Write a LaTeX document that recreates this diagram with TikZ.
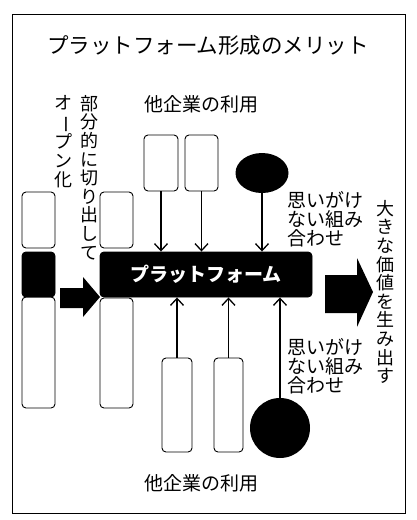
\documentclass[tikz,border=0pt]{standalone}
\usepackage{fontspec}
\usepackage{graphicx}
\setmainfont{Noto Sans CJK JP}
\usetikzlibrary{arrows.meta,shapes.geometric}
\tikzset{
  wbox/.style={draw,line width=0.9pt,rounded corners=4pt,minimum width=33pt,inner sep=0pt},
  bbox/.style={wbox,fill=black},
  blob/.style={fill=black,inner sep=0pt},
  arr/.style={line width=1.3pt,-{Straight Barb[length=7pt,width=13pt]}},
  tate/.style={align=center,inner sep=0pt,font=\fontsize{18}{18.6}\selectfont},
  yoko/.style={align=left,inner sep=0pt,font=\fontsize{19}{19}\selectfont},
}
\newcommand{\tatebar}{\rotatebox[origin=c]{-90}{ー}}
\begin{document}
\begin{tikzpicture}[x=1pt,y=-1pt]
	\useasboundingbox (0,0) rectangle (416,520);
	%% frame
	\draw[line width=1pt] (12,14) rectangle (405,513);
	%% title
	\node[font=\fontsize{21.5}{21.5}\selectfont] (title) at (208,45) {プラットフォーム形成のメリット};
	%% left columns
	\node[wbox,minimum height=56pt] (l1) at (38.5,220) {};
	\node[bbox,minimum height=45pt] (l2) at (38.5,274.5) {};
	\node[wbox,minimum height=111pt] (l3) at (38.5,352.5) {};
	\node[wbox,minimum height=56pt] (r1) at (116.5,220) {};
	\node[wbox,minimum height=110pt] (r3) at (116.5,353) {};
	%% platform
	\node[bbox,minimum width=212pt,minimum height=45pt,text=white,
	  font=\fontsize{19}{19}\selectfont\bfseries] (plat) at (206,274.5) {プラットフォーム};
	%% vertical labels
	\node[tate,anchor=north] (open) at (63,95) {オ\\\tatebar\\プ\\ン\\化};
	\node[tate,anchor=north] (cut) at (89,95) {部\\分\\的\\に\\切\\り\\出\\し\\て};
	\node[tate,anchor=north] (value) at (385,200) {大\\き\\な\\価\\値\\を\\生\\み\\出\\す};
	%% other companies, top
	\node[yoko] (use1) at (201,104) {他企業の利用};
	\node[wbox,minimum width=34pt,minimum height=56pt] (t1) at (161,163) {};
	\node[wbox,minimum width=33pt,minimum height=56pt] (t2) at (201.5,163) {};
	\node[blob,ellipse,minimum width=53pt,minimum height=40pt] (e1) at (262,173) {};
	\node[yoko,anchor=west] (kumi1) at (287,219) {思いがけ\\ない組み\\合わせ};
	%% other companies, bottom
	\node[wbox,minimum width=30pt,minimum height=94pt] (b1) at (177,405) {};
	\node[wbox,minimum width=29pt,minimum height=94pt] (b2) at (228.5,405) {};
	\node[blob,circle,minimum size=60pt] (e2) at (280,428) {};
	\node[yoko,anchor=west] (kumi2) at (287,366) {思いがけ\\ない組み\\合わせ};
	\node[yoko] (use2) at (201,483) {他企業の利用};
	%% arrows into platform
	\draw[arr] (t1.south) -- (t1.south |- plat.north);
	\draw[arr] (t2.south) -- (t2.south |- plat.north);
	\draw[arr] (e1.south) -- (e1.south |- plat.north);
	\draw[arr] (b1.north) -- (b1.north |- plat.south);
	\draw[arr] (b2.north) -- (b2.north |- plat.south);
	\draw[arr] (e2.north) -- (e2.north |- plat.south);
	%% block arrows
	\fill (60,288) -- (83,288) -- (83,277) -- (100,297) -- (83,317) -- (83,308) -- (60,308) -- cycle;
	\fill (325,275) -- (357,275) -- (357,258) -- (373,292) -- (357,327) -- (357,313) -- (325,313) -- cycle;
\end{tikzpicture}
\end{document}
